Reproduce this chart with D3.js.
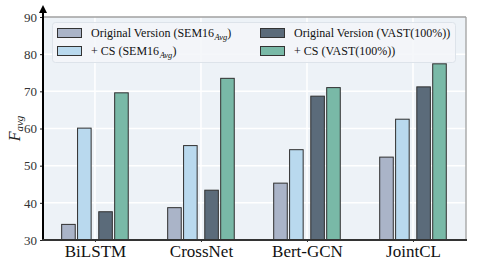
<!DOCTYPE html>
<html>
<head>
<meta charset="utf-8">
<script src="https://cdn.jsdelivr.net/npm/d3@7"></script>
<style>
  body { margin: 0; background: #fff; }
  svg { display: block; }
  svg text { font-family: "Liberation Serif", "Times New Roman", serif !important; }
</style>
</head>
<body>
<div id="chart"></div>
<script>
const width = 486;
const height = 267;

// Data
const models = ["BiLSTM", "CrossNet", "Bert-GCN", "JointCL"];
const seriesKeys = ["origSem", "csSem", "origVast", "csVast"];
const origSem = [34.2, 38.7, 45.3, 52.3];
const csSem = [60.1, 55.4, 54.3, 62.5];
const origVast = [37.6, 43.4, 68.7, 71.2];
const csVast = [69.6, 73.5, 71.0, 77.4];
const yTicks = [30, 40, 50, 60, 70, 80, 90];

const values = { origSem, csSem, origVast, csVast };
const offsets = { origSem: -0.25, csSem: -0.1, origVast: 0.1, csVast: 0.25 };
const colors = { origSem: "#aab4c8", csSem: "#b9d9ee", origVast: "#5b6b7a", csVast: "#79b9a7" };

const serif = "Liberation Serif";
const margin = { top: 17, right: 20, bottom: 27, left: 43 };

const svg = d3.select("#chart")
  .append("svg")
  .attr("width", width)
  .attr("height", height)
  .attr("font-family", serif);

// x is a linear scale in category units so bar offsets work like matplotlib
const x = d3.scaleLinear()
  .domain([-0.49, 3.5])
  .range([margin.left, width - margin.right]);

const y = d3.scaleLinear()
  .domain([30, 90])
  .range([height - margin.bottom, margin.top]);

const barW = 0.128;

// background
svg.append("rect")
  .attr("x", x.range()[0])
  .attr("y", y(90))
  .attr("width", x.range()[1] - x.range()[0])
  .attr("height", y(30) - y(90))
  .attr("fill", "#edf2f7");

// grid lines
svg.append("g")
  .selectAll("line")
  .data(yTicks.slice(1, -1))
  .enter()
  .append("line")
  .attr("x1", x.range()[0])
  .attr("x2", x.range()[1])
  .attr("y1", d => y(d))
  .attr("y2", d => y(d))
  .attr("stroke", "#fff")
  .attr("stroke-width", 1.5);

svg.append("g")
  .selectAll("line")
  .data(models)
  .enter()
  .append("line")
  .attr("x1", (d, i) => x(i))
  .attr("x2", (d, i) => x(i))
  .attr("y1", y(90))
  .attr("y2", y(30))
  .attr("stroke", "#fff")
  .attr("stroke-width", 1.5);

// top and right spines
svg.append("line")
  .attr("x1", x.range()[0]).attr("x2", x.range()[1])
  .attr("y1", y(90)).attr("y2", y(90))
  .attr("stroke", "#a0a0a0").attr("stroke-width", 1.3);
svg.append("line")
  .attr("x1", x.range()[1]).attr("x2", x.range()[1])
  .attr("y1", y(90)).attr("y2", y(30))
  .attr("stroke", "#a0a0a0").attr("stroke-width", 1.3);

// bars
seriesKeys.forEach(key => {
  svg.append("g")
    .selectAll("rect")
    .data(values[key])
    .enter()
    .append("rect")
    .attr("x", (d, i) => x(i + offsets[key] - barW / 2))
    .attr("width", x(barW) - x(0))
    .attr("y", d => y(d))
    .attr("height", d => y(30) - y(d))
    .attr("fill", colors[key])
    .attr("stroke", "#2f2f2f")
    .attr("stroke-width", 1);
});

// y axis
const yAxis = svg.append("g")
  .attr("transform", `translate(${x.range()[0]},0)`)
  .call(d3.axisLeft(y).tickValues(yTicks).tickSize(3).tickPadding(3));
yAxis.attr("font-family", serif);
yAxis.select(".domain").remove();
yAxis.selectAll(".tick line").attr("stroke", "#222");
yAxis.selectAll("text")
  .attr("font-size", 13)
  .attr("fill", "#333");

// left spine with arrow
svg.append("defs").append("marker")
  .attr("id", "arrow")
  .attr("viewBox", "0 0 10 10")
  .attr("refX", 5).attr("refY", 5)
  .attr("markerWidth", 4).attr("markerHeight", 4)
  .attr("orient", "auto")
  .append("path")
  .attr("d", "M0,0 L10,5 L0,10 z")
  .attr("fill", "#000");
svg.append("line")
  .attr("x1", x.range()[0]).attr("x2", x.range()[0])
  .attr("y1", y(30) + 1).attr("y2", 9)
  .attr("stroke", "#000").attr("stroke-width", 2)
  .attr("marker-end", "url(#arrow)");

// x axis
const xAxis = svg.append("g")
  .attr("transform", `translate(0,${y(30)})`)
  .call(d3.axisBottom(x).tickValues(d3.range(models.length)).tickFormat(i => models[i]).tickSize(2).tickPadding(3));
xAxis.attr("font-family", serif);
xAxis.select(".domain").remove();
xAxis.selectAll(".tick line").attr("stroke", "#333");
xAxis.selectAll("text")
  .attr("font-size", 17)
  .attr("fill", "#111");
svg.append("line")
  .attr("x1", x.range()[0] - 1).attr("x2", x.range()[1] + 1)
  .attr("y1", y(30)).attr("y2", y(30))
  .attr("stroke", "#333").attr("stroke-width", 2);

// y label
svg.append("text")
  .attr("transform", `translate(20,${(y(30) + y(90)) / 2}) rotate(-90)`)
  .attr("text-anchor", "middle")
  .attr("font-size", 16)
  .attr("font-style", "italic")
  .attr("fill", "#222")
  .html('F<tspan font-size="11" dy="3">avg</tspan>');

// legend
const legendItems = [
  { key: "origSem", label: "Original Version (SEM16", sub: "Avg", tail: ")", col: 0, row: 0 },
  { key: "csSem", label: "+ CS (SEM16", sub: "Avg", tail: ")", col: 0, row: 1 },
  { key: "origVast", label: "Original Version (VAST(100%))", sub: "", tail: "", col: 1, row: 0 },
  { key: "csVast", label: "+ CS (VAST(100%))", sub: "", tail: "", col: 1, row: 1 }
];

const legend = svg.append("g");
legend.append("rect")
  .attr("x", 52.5).attr("y", 22.5)
  .attr("width", 403).attr("height", 40)
  .attr("rx", 3)
  .attr("fill", "#f3f6f9")
  .attr("fill-opacity", 0.85)
  .attr("stroke", "#dde3ea");

const colX = [57, 260];
const rowY = [33, 51];

const items = legend.selectAll(".item")
  .data(legendItems)
  .enter()
  .append("g")
  .attr("transform", d => `translate(${colX[d.col]},${rowY[d.row]})`);

items.append("rect")
  .attr("x", 0.5).attr("y", -4.5)
  .attr("width", 24).attr("height", 9)
  .attr("fill", d => colors[d.key])
  .attr("stroke", "#333")
  .attr("stroke-width", 1);

items.append("text")
  .attr("x", 34)
  .attr("y", 4)
  .attr("font-size", 12)
  .attr("font-family", serif)
  .attr("fill", "#111")
  .each(function(d) {
    const t = d3.select(this);
    t.append("tspan").text(d.label);
    if (d.sub) {
      t.append("tspan").attr("font-size", 8.5).attr("font-style", "italic").attr("dy", 3).attr("dx", 0.5).text(d.sub);
      t.append("tspan").attr("dy", -3).text(d.tail);
    }
  });
</script>
</body>
</html>
